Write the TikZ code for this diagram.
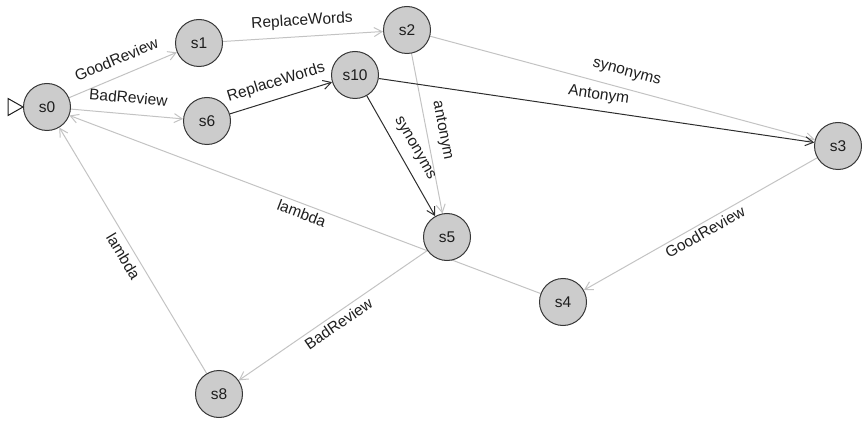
\documentclass[tikz,border=0pt]{standalone}
\usepackage{fontspec}
\setmainfont{Liberation Sans}
\usetikzlibrary{arrows.meta,backgrounds}
\definecolor{nodefill}{RGB}{204,204,204}
\definecolor{nodeline}{RGB}{55,55,55}
\definecolor{lightedge}{RGB}{195,195,195}
\definecolor{darkedge}{RGB}{45,45,45}
\definecolor{txt}{RGB}{30,30,30}
\begin{document}
\begin{tikzpicture}[x=1pt,y=-1pt,
  state/.style={circle,draw=nodeline,fill=nodefill,line width=1pt,minimum size=47pt,inner sep=0pt,text=txt,font=\fontsize{15.5}{18}\selectfont},
  lbl/.style={sloped,inner sep=0pt,text=txt,font=\fontsize{15.5}{18}\selectfont},
  tr/.style={-{Straight Barb[length=8pt,width=9pt]},line width=1pt},
  light/.style={tr,draw=lightedge},
  dark/.style={tr,draw=darkedge}]
\useasboundingbox (0,0) rectangle (862,422);
\node[state] (s0) at (47,107) {s0};
\node[state] (s1) at (199,43) {s1};
\node[state] (s2) at (407,30) {s2};
\node[state] (s6) at (207,121) {s6};
\node[state] (s10) at (355,75) {s10};
\node[state] (s3) at (838,146) {s3};
\node[state] (s5) at (447,237) {s5};
\node[state] (s4) at (563,302) {s4};
\node[state] (s8) at (219,394) {s8};
\begin{scope}[on background layer]
\draw[light] (s0) -- node[lbl,above=11pt]{GoodReview} (s1);
\draw[light] (s0) -- node[lbl,above=10.5pt]{BadReview} (s6);
\draw[light] (s1) -- node[lbl,above=7.5pt]{ReplaceWords} (s2);
\draw[light] (s2) -- node[lbl,above=9pt]{synonyms} (s3);
\draw[light] (s2) -- node[lbl,above=8.5pt]{antonym} (s5);
\draw[light] (s3) -- node[lbl,below=3pt]{GoodReview} (s4);
\draw[light] (s4) -- node[lbl,below=3pt]{lambda} (s0);
\draw[light] (s5) -- node[lbl,below=3.5pt]{BadReview} (s8);
\draw[light] (s8) -- node[lbl,below=5pt]{lambda} (s0);
\draw[dark] (s6) -- node[lbl,above=8.5pt]{ReplaceWords} (s10);
\draw[dark] (s10) -- node[lbl,above=7.5pt]{Antonym} (s3);
\draw[dark] (s10) -- node[lbl,above=9pt]{synonyms} (s5);
\end{scope}
\draw[line width=1pt,draw=txt,fill=white] (s0.west) -- ++(-15,-8.5) -- ++(0,17) -- cycle;
\end{tikzpicture}
\end{document}
